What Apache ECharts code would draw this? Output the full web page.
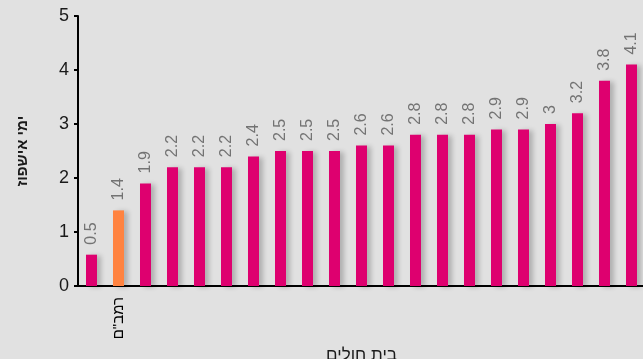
<!DOCTYPE html>
<html>
<head>
<meta charset="utf-8">
<script src="https://cdn.jsdelivr.net/npm/echarts@6/dist/echarts.min.js"></script>
<style>
html,body{margin:0;padding:0;background:#e1e1e1;overflow:hidden;}
#c{width:643px;height:359px;}
</style>
</head>
<body>
<div id="c"></div>
<script>
var categories = ['', 'רמב"ם', '', '', '', '', '', '', '', '', '', '', '', '', '', '', '', '', '', '', ''];
var values = [0.58, 1.4, 1.9, 2.2, 2.2, 2.2, 2.4, 2.5, 2.5, 2.5, 2.6, 2.6, 2.8, 2.8, 2.8, 2.9, 2.9, 3, 3.2, 3.8, 4.1];
var valueLabels = ['0.5', '1.4', '1.9', '2.2', '2.2', '2.2', '2.4', '2.5', '2.5', '2.5', '2.6', '2.6', '2.8', '2.8', '2.8', '2.9', '2.9', '3', '3.2', '3.8', '4.1'];
var highlightIndex = 1;
var yTicks = [0, 1, 2, 3, 4, 5];

var font = 'Liberation Sans, Arial, sans-serif';
var chart = echarts.init(document.getElementById('c'), null, {renderer: 'canvas'});
chart.setOption({
  backgroundColor: '#e1e1e1',
  animation: false,
  grid: {left: 78, top: 16, width: 567, bottom: 73, containLabel: false, outerBoundsMode: 'none'},
  xAxis: {
    type: 'category',
    data: categories,
    name: 'בית חולים',
    nameLocation: 'middle',
    nameGap: 55,
    nameTextStyle: {fontFamily: font, fontSize: 17, color: '#1a1a1a'},
    axisLine: {lineStyle: {color: '#000', width: 2}},
    axisTick: {show: false},
    axisLabel: {interval: 0, rotate: 90, margin: 11, fontFamily: font, fontSize: 15, color: '#000'}
  },
  yAxis: {
    type: 'value',
    min: yTicks[0],
    max: yTicks[yTicks.length - 1],
    interval: 1,
    name: 'ימי אישפוז',
    nameLocation: 'middle',
    nameRotate: 90,
    nameGap: 48,
    nameTextStyle: {fontFamily: font, fontSize: 15, fontWeight: 'bold', color: '#1a1a1a'},
    axisLine: {show: true, lineStyle: {color: '#000', width: 2}},
    axisTick: {show: true, length: 4, lineStyle: {color: '#000', width: 2}},
    splitLine: {show: false},
    axisLabel: {margin: 9, fontFamily: font, fontSize: 18, color: '#1a1a1a'}
  },
  series: [{
    type: 'bar',
    barWidth: 11,
    data: values.map(function (v, i) {
      return {
        value: v,
        itemStyle: {color: i === highlightIndex ? '#ff8340' : '#de006f'}
      };
    }),
    itemStyle: {
      shadowColor: 'rgba(0,0,0,0.22)',
      shadowBlur: 5,
      shadowOffsetX: 4,
      shadowOffsetY: 1
    },
    label: {
      show: true,
      position: 'top',
      rotate: 90,
      align: 'left',
      verticalAlign: 'middle',
      distance: 10,
      fontFamily: font,
      fontSize: 16,
      color: '#737373',
      formatter: function (p) { return valueLabels[p.dataIndex]; }
    }
  }]
});
</script>
</body>
</html>
